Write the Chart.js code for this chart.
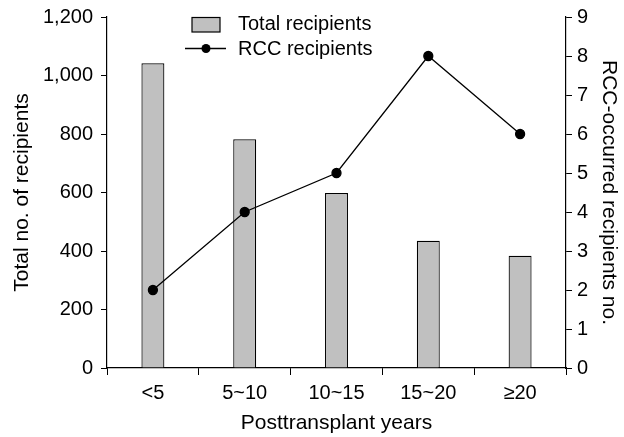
<!DOCTYPE html>
<html>
<head>
<meta charset="utf-8">
<script src="https://cdn.jsdelivr.net/npm/chart.js@4/dist/chart.umd.min.js"></script>
<style>
html,body{margin:0;padding:0;background:#fff;}
#wrap{width:624px;height:437px;}
</style>
</head>
<body>
<div id="wrap"><canvas id="c" width="624" height="437"></canvas></div>
<script>
const categories = ["<5", "5~10", "10~15", "15~20", "\u226520"];
const totalRecipients = [1042, 782, 598, 435, 384];
const rccRecipients = [2, 4, 5, 8, 6];
const leftTicks = [0, 200, 400, 600, 800, 1000, 1200];
const rightTicks = [0, 1, 2, 3, 4, 5, 6, 7, 8, 9];
const seriesNames = ["Total recipients", "RCC recipients"];

const FONT = "'Liberation Sans', Arial, sans-serif";

const legendPlugin = {
  id: 'customLegend',
  afterDraw(chart) {
    const ctx = chart.ctx;
    ctx.save();
    ctx.fillStyle = '#c0c0c0';
    ctx.strokeStyle = '#000';
    ctx.lineWidth = 1.2;
    ctx.fillRect(192, 17.5, 28, 14.5);
    ctx.strokeRect(192, 17.5, 28, 14.5);
    ctx.beginPath();
    ctx.moveTo(185, 48.5);
    ctx.lineTo(226, 48.5);
    ctx.lineWidth = 1.3;
    ctx.stroke();
    ctx.beginPath();
    ctx.arc(206, 48.5, 4.5, 0, Math.PI * 2);
    ctx.fillStyle = '#000';
    ctx.fill();
    ctx.font = '20px ' + FONT;
    ctx.fillStyle = '#000';
    ctx.textBaseline = 'middle';
    ctx.textAlign = 'left';
    ctx.fillText(seriesNames[0], 238, 24.5);
    ctx.fillText(seriesNames[1], 238, 49.5);
    ctx.restore();
  }
};

function fixVert(width) {
  return function (s) { s.width = width; s.paddingTop = 0; s.paddingBottom = 0; };
}

new Chart(document.getElementById('c'), {
  type: 'bar',
  data: {
    labels: categories,
    datasets: [
      {
        type: 'line',
        label: seriesNames[1],
        data: rccRecipients,
        yAxisID: 'y1',
        borderColor: '#000',
        backgroundColor: '#000',
        borderWidth: 1.3,
        pointRadius: 4.5,
        pointBackgroundColor: '#000',
        pointBorderColor: '#000',
        tension: 0,
        order: 0
      },
      {
        type: 'bar',
        label: seriesNames[0],
        data: totalRecipients,
        yAxisID: 'y',
        backgroundColor: '#c0c0c0',
        borderColor: '#000',
        borderWidth: 1.2,
        barPercentage: 0.25,
        categoryPercentage: 1,
        order: 1
      }
    ]
  },
  options: {
    responsive: false,
    animation: false,
    layout: { padding: { top: 17, left: 0, right: 0, bottom: 0 } },
    plugins: { legend: { display: false }, tooltip: { enabled: false } },
    scales: {
      x: {
        offset: true,
        grid: { display: true, drawOnChartArea: false, color: '#000', tickLength: 7, offset: true },
        border: { color: '#000', width: 1.2 },
        ticks: { color: '#000', font: { family: FONT, size: 20 }, padding: 6, maxRotation: 0 },
        title: { display: true, text: 'Posttransplant years', color: '#000', font: { family: FONT, size: 21 }, padding: { top: 2, bottom: 1.5 } },
        afterFit(s) { s.height = 69; s.paddingLeft = 0; s.paddingRight = 0; }
      },
      y: {
        position: 'left',
        min: 0, max: 1200,
        afterBuildTicks(s) { s.ticks = leftTicks.map(v => ({ value: v })); },
        grid: { display: true, drawOnChartArea: false, color: '#000', tickLength: 6 },
        border: { color: '#000', width: 1.2 },
        ticks: { color: '#000', font: { family: FONT, size: 20 }, padding: 8,
          callback: v => v.toLocaleString('en-US') },
        title: { display: true, text: 'Total no. of recipients', color: '#000', font: { family: FONT, size: 21 }, padding: { top: 9.5, bottom: 0 } },
        afterFit: fixVert(107)
      },
      y1: {
        position: 'right',
        min: 0, max: 9,
        afterBuildTicks(s) { s.ticks = rightTicks.map(v => ({ value: v })); },
        grid: { display: true, drawOnChartArea: false, color: '#000', tickLength: 6 },
        border: { color: '#000', width: 1.2 },
        ticks: { color: '#000', font: { family: FONT, size: 20 }, padding: 5 },
        title: { display: true, text: 'RCC-occurred recipients no.', color: '#000', font: { family: FONT, size: 21 }, padding: { top: 2.5, bottom: 0 } },
        afterFit: fixVert(58)
      }
    }
  },
  plugins: [legendPlugin]
});
</script>
</body>
</html>
